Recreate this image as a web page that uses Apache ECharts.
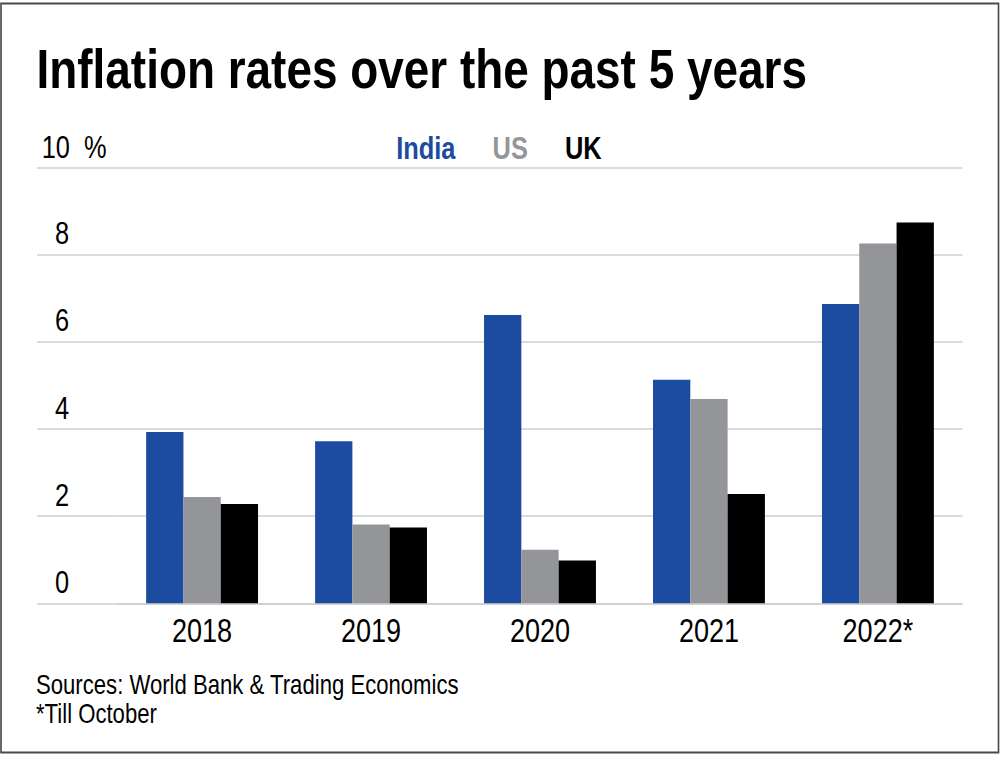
<!DOCTYPE html>
<html>
<head>
<meta charset="utf-8">
<script src="https://cdn.jsdelivr.net/npm/echarts@6/dist/echarts.min.js"></script>
<style>
html,body{margin:0;padding:0;background:#fff;overflow:hidden;}
#wrap{width:1000px;height:757px;overflow:hidden;position:relative;}
/* Condensed look (no narrow font installed): draw in a wider space and squeeze horizontally */
#chart{width:1219.5px;height:757px;transform:scaleX(0.82);transform-origin:0 0;}
</style>
</head>
<body>
<div id="wrap"><div id="chart"></div></div>
<script>
const categories = ['2018', '2019', '2020', '2021', '2022*'];
const india = [3.93, 3.72, 6.62, 5.13, 6.87];
const us = [2.44, 1.81, 1.23, 4.69, 8.26];
const uk = [2.28, 1.74, 0.98, 2.51, 8.74];
const seriesNames = ['India', 'US', 'UK'];
const colors = ['#1c4c9f', '#939598', '#000000'];

const S = 0.82; // horizontal squeeze
const X = v => v / S;
const FONT = '"Liberation Sans", Arial, sans-serif';
const chart = echarts.init(document.getElementById('chart'), null, {renderer: 'svg'});
const seriesData = [india, us, uk];

chart.setOption({
  animation: false,
  backgroundColor: '#fff',
  title: [{
    text: 'Inflation rates over the past 5 years',
    left: X(36.5), top: 40.5, padding: 0,
    textStyle: {fontFamily: FONT, fontSize: 56, fontWeight: 'bold', color: '#000', lineHeight: 56}
  }, {
    text: 'Sources: World Bank & Trading Economics\n*Till October',
    left: X(36), top: 670, padding: 0,
    textStyle: {fontFamily: FONT, fontSize: 27, fontWeight: 'normal', color: '#000', lineHeight: 29}
  }],
  legend: {
    data: seriesNames.map((n, i) => ({name: n, textStyle: {color: colors[i]}})),
    left: X(388), top: 128,
    icon: 'rect', itemWidth: 0, itemHeight: 0, itemGap: X(33),
    textStyle: {fontFamily: FONT, fontSize: 31, fontWeight: 'bold'}
  },
  grid: {left: X(117.6), right: X(38), top: 167.7, bottom: 153.7, containLabel: false},
  xAxis: {
    type: 'category',
    data: categories,
    axisLine: {show: true, lineStyle: {color: '#cfcfcf', width: 1.5}},
    axisTick: {show: false},
    axisLabel: {fontFamily: FONT, fontSize: 33, color: '#000', margin: 11}
  },
  yAxis: {
    type: 'value',
    min: 0, max: 10, interval: 2,
    name: '10\u00a0\u00a0%',
    nameLocation: 'end',
    nameGap: 0,
    nameTextStyle: {fontFamily: FONT, fontSize: 31, color: '#000', align: 'right', verticalAlign: 'bottom', padding: [0, X(11), 5, 0]},
    axisLine: {show: false},
    axisTick: {show: true, inside: false, length: X(80.5), lineStyle: {color: '#cfcfcf', width: 1.5}},
    splitLine: {show: true, lineStyle: {color: '#cfcfcf', width: 1.5}},
    axisLabel: {
      fontFamily: FONT, fontSize: 31, color: '#000',
      align: 'left', verticalAlign: 'bottom', margin: X(62.6), padding: [0, 0, 6, 0],
      formatter: v => (v === 10 ? '' : String(v))
    }
  },
  series: seriesNames.map((n, i) => ({
    name: n,
    type: 'bar',
    data: seriesData[i],
    barWidth: X(37.3),
    barGap: '0%',
    itemStyle: {color: colors[i]}
  })),
  graphic: [{
    type: 'rect',
    shape: {x: X(1), y: 3.5, width: X(997.5), height: 749},
    style: {fill: 'none', stroke: '#4a4a4a', lineWidth: 2},
    silent: true
  }]
});
</script>
</body>
</html>
